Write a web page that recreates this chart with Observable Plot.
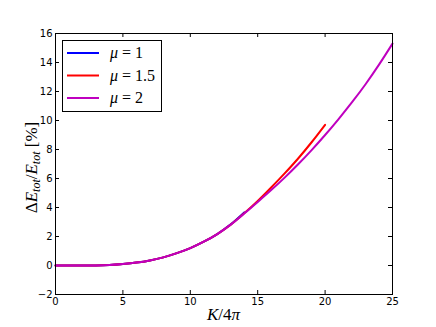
<!DOCTYPE html>
<html><head><meta charset="utf-8">
<script src="https://cdn.jsdelivr.net/npm/d3@7"></script>
<script src="https://cdn.jsdelivr.net/npm/@observablehq/plot@0.6"></script>
<style>body{margin:0;background:#fff}</style>
</head><body><div id="chart"></div>
<script>
// K/4π sample points
const kValues = [0,1,2,3,4,5,6,7,8,9,10,11,12,13,14,15,16,17,18,19,20,21,22,23,24,25];
// ΔE_tot/E_tot [%]
const mu1Values = [0,0,0,0.005,0.03,0.1,0.2,0.35,0.56,0.85,1.2,1.64,2.17,2.84,3.66];
const mu15Values = [0,0,0,0.005,0.03,0.1,0.2,0.35,0.56,0.85,1.2,1.64,2.17,2.82,3.6,4.45,5.38,6.35,7.38,8.5,9.7];
const mu2Values = [0,0,0,0.005,0.03,0.1,0.2,0.35,0.56,0.85,1.2,1.64,2.17,2.82,3.58,4.38,5.2,6.06,6.98,7.96,9.0,10.1,11.26,12.5,13.85,15.3];
const seriesNames = ["1","1.5","2"];
const seriesColors = ["#0000ff","#ff0000","#bf00bf"];
const xTicks = [0,5,10,15,20,25];
const yTicks = [-2,0,2,4,6,8,10,12,14,16];

const allSeries = [mu1Values, mu15Values, mu2Values];
const rows = allSeries.map(vals => vals.map((y,i) => ({k: kValues[i], y})));

const W = 436, H = 327, mL = 55, mR = 44, mT = 33, mB = 33;
const pw = W - mL - mR, ph = H - mT - mB;
const fmt = d => d < 0 ? "\u2212" + (-d) : String(d);

const plot = Plot.plot({
  width: W, height: H,
  marginLeft: mL, marginRight: mR, marginTop: mT, marginBottom: mB,
  x: {domain: [0,25]},
  y: {domain: [-2,16]},
  style: {fontFamily: "DejaVu Sans", fontSize: "10px", background: "white", color: "black"},
  marks: [
    Plot.axisX({ticks: xTicks, tickSize: 0, tickPadding: 3, label: null, anchor: "bottom", tickFormat: fmt}),
    Plot.axisY({ticks: yTicks, tickSize: 0, tickPadding: 3, label: null, anchor: "left", tickFormat: fmt}),
    Plot.tickX(xTicks, {x: d => d, insetTop: ph - 4, stroke: "black"}),
    Plot.tickX(xTicks, {x: d => d, insetBottom: ph - 4, stroke: "black"}),
    Plot.tickY(yTicks, {y: d => d, insetRight: pw - 4, stroke: "black"}),
    Plot.tickY(yTicks, {y: d => d, insetLeft: pw - 4, stroke: "black"}),
    ...rows.map((r, i) => Plot.line(r, {x: "k", y: "y", stroke: seriesColors[i], strokeWidth: 2, curve: "monotone-x"})),
    Plot.frame({stroke: "black", strokeWidth: 1})
  ]
});

document.getElementById("chart").appendChild(plot);
const svg = d3.select(plot);
const serif = "'Liberation Serif', 'Times New Roman', serif";

// y label
const yl = svg.append("text")
  .attr("transform", `translate(37,${mT + ph/2 + 4}) rotate(-90)`)
  .attr("text-anchor", "middle")
  .attr("font-family", serif).attr("font-size", 17).attr("fill", "black");
yl.append("tspan").text("Δ");
yl.append("tspan").attr("font-style", "italic").text("E");
yl.append("tspan").attr("font-style", "italic").attr("font-size", 12).attr("dy", 3).text("tot");
yl.append("tspan").attr("dy", -3).text("/");
yl.append("tspan").attr("font-style", "italic").text("E");
yl.append("tspan").attr("font-style", "italic").attr("font-size", 12).attr("dy", 3).text("tot");
yl.append("tspan").attr("dy", -3).text(" [%]");

// x label
const xl = svg.append("text")
  .attr("x", mL + pw/2).attr("y", 320)
  .attr("text-anchor", "middle")
  .attr("font-family", serif).attr("font-size", 17).attr("fill", "black");
xl.append("tspan").attr("font-style", "italic").text("K");
xl.append("tspan").text("/4");
xl.append("tspan").attr("font-style", "italic").text("π");

// legend
const lg = svg.append("g");
lg.append("rect").attr("x", 62.5).attr("y", 40.5).attr("width", 99).attr("height", 71)
  .attr("fill", "white").attr("stroke", "black").attr("stroke-width", 1);
seriesNames.forEach((n, i) => {
  const yy = 53 + i * 22.5;
  lg.append("line").attr("x1", 67).attr("x2", 99).attr("y1", yy).attr("y2", yy)
    .attr("stroke", seriesColors[i]).attr("stroke-width", 2);
  const t = lg.append("text").attr("x", 110).attr("y", yy + 5)
    .attr("text-anchor", "start")
    .attr("font-family", serif).attr("font-size", 16).attr("fill", "black");
  t.append("tspan").attr("font-style", "italic").text("μ");
  t.append("tspan").text(" = " + n);
});
</script>
</body></html>
